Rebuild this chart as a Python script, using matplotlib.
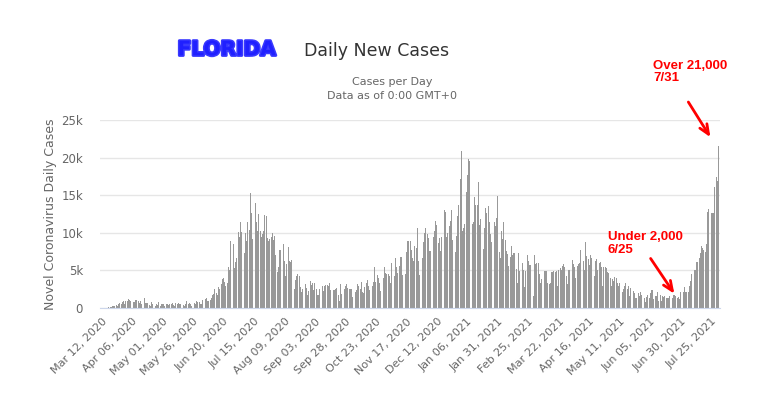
import matplotlib
matplotlib.use("Agg")
import matplotlib.pyplot as plt
import matplotlib.patheffects as pe
import numpy as np

# daily new cases in Florida (thousands), Mar 12 2020 -> Jul 31 2021
cases_k = [
    0.01, 0.02, 0.03, 0.03, 0.05, 0.07, 0.1,
    0.12, 0.15, 0.25, 0.3, 0.22, 0.4, 0.3,
    0.5, 0.7, 0.5, 0.75, 0.9, 0.6, 1.0,
    1.0, 1.2, 1.1, 1.0, 1.2, 0.8, 0.8,
    1.1, 1.1, 1.0, 0.7, 1.0, 0.6, 0.9,
    1.3, 0.7, 0.7, 0.7, 0.4, 0.3, 0.8,
    0.6, 0.5, 0.3, 0.5, 0.4, 0.8, 0.3,
    0.5, 0.6, 0.5, 0.3, 0.6, 0.5, 0.4,
    0.6, 0.55, 0.7, 0.4, 0.3, 0.7, 0.5,
    0.7, 0.6, 0.55, 0.8, 0.45, 0.3, 0.5,
    0.9, 0.6, 0.7, 0.5, 0.3, 0.4, 0.7,
    0.5, 1.0, 0.8, 0.75, 0.6, 0.6, 1.1,
    1.3, 1.25, 1.3, 0.95, 1.0, 1.1, 1.4,
    1.7, 1.9, 2.6, 2.0, 1.8, 2.8, 2.6,
    3.2, 3.8, 4.0, 3.5, 2.9, 3.3, 5.5,
    5.0, 8.9, 9.6, 8.5, 5.3, 6.1, 6.6,
    10.1, 9.5, 11.5, 10.1, 6.3, 7.3, 10.0,
    8.9, 11.4, 10.4, 15.3, 12.6, 9.2, 10.2,
    14.0, 11.5, 10.3, 12.5, 10.3, 9.4, 9.8,
    10.2, 12.4, 12.2, 9.3, 8.9, 9.2, 9.4,
    10.0, 9.0, 9.6, 7.1, 4.8, 5.4, 7.7,
    7.7, 8.0, 8.5, 6.2, 4.2, 5.8, 8.1,
    6.2, 6.1, 6.4, 3.8, 2.6, 3.7, 4.2,
    4.5, 4.3, 2.8, 2.1, 2.5, 3.1, 3.2,
    2.7, 1.7, 2.3, 3.6, 3.1, 3.4, 2.4,
    3.4, 2.5, 1.8, 1.8, 2.6, 3.2, 3.0,
    2.3, 2.9, 3.1, 3.1, 3.0, 3.4, 2.4,
    1.3, 2.4, 2.4, 2.5, 2.7, 1.7, 1.0,
    3.2, 1.9, 2.5, 2.6, 2.9, 3.2, 2.7,
    2.5, 2.6, 2.6, 1.5, 2.0, 2.2, 2.4,
    3.2, 2.9, 2.6, 3.5, 2.2, 2.0, 2.8,
    3.3, 3.7, 3.0, 2.4, 1.7, 2.9, 3.5,
    5.5, 3.5, 4.4, 4.0, 3.3, 2.3, 4.2,
    4.0, 5.5, 4.6, 4.5, 4.5, 4.2, 3.4,
    6.0, 5.1, 4.3, 6.6, 5.5, 4.6, 5.6,
    6.8, 6.8, 4.4, 10.0, 4.5, 7.4, 8.9,
    8.9, 8.9, 7.7, 6.6, 6.3, 8.2, 8.0,
    10.6, 6.2, 4.4, 5.5, 6.7, 8.8, 10.0,
    10.7, 9.8, 9.3, 7.6, 7.6, 8.8, 9.5,
    10.2, 11.6, 11.0, 8.7, 9.3, 7.6, 9.5,
    11.5, 13.1, 12.8, 9.4, 10.0, 10.9, 11.6,
    13.1, 9.0, 7.0, 7.4, 9.6, 12.3, 13.7,
    17.1, 20.9, 10.3, 10.6, 11.2, 15.4, 17.7,
    19.8, 19.5, 12.3, 11.2, 11.5, 14.7, 13.7,
    13.7, 16.8, 11.0, 11.8, 10.8, 7.8, 10.6,
    13.3, 12.7, 13.6, 11.5, 9.9, 8.8, 10.0,
    11.4, 10.9, 12.0, 14.9, 7.5, 6.7, 10.2,
    9.2, 11.4, 9.0, 7.6, 7.2, 5.6, 6.8,
    8.3, 7.1, 7.3, 7.3, 5.2, 3.3, 7.3,
    4.9, 7.3, 6.0, 5.0, 2.8, 4.9, 7.0,
    6.3, 5.7, 5.7, 5.4, 1.6, 7.1, 5.9,
    6.0, 6.0, 4.5, 3.4, 3.9, 4.4, 4.9,
    4.9, 4.9, 3.4, 3.2, 3.3, 4.8, 4.8,
    4.9, 4.8, 4.9, 3.0, 5.0, 5.3, 5.1,
    5.6, 5.8, 5.5, 4.2, 3.2, 5.0, 5.0,
    5.4, 6.4, 5.8, 5.4, 4.0, 5.6, 5.8,
    6.0, 7.7, 6.6, 6.2, 5.0, 8.8, 6.9,
    6.5, 5.7, 7.0, 6.7, 4.4, 4.2, 6.3,
    6.5, 5.1, 6.0, 6.1, 5.5, 3.0, 5.4,
    5.5, 5.3, 4.8, 4.6, 4.0, 2.9, 3.9,
    3.6, 4.1, 4.0, 3.4, 3.0, 3.3, 3.5,
    2.2, 2.6, 3.0, 3.4, 2.6, 2.9, 1.6,
    2.7, 2.5, 2.3, 2.0, 1.4, 1.3, 2.0,
    1.6, 2.2, 1.8, 1.1, 1.3, 0.8, 1.5,
    1.8, 1.4, 2.0, 2.4, 2.4, 1.2, 1.6,
    1.6, 2.1, 1.0, 1.8, 1.0, 1.6, 1.5,
    1.6, 1.4, 1.3, 1.3, 1.6, 1.8, 1.4,
    1.8, 1.8, 1.6, 1.3, 1.5, 1.2, 2.1,
    2.3, 2.1, 2.8, 2.2, 2.2, 2.2, 2.9,
    3.6, 4.5, 5.8, 5.0, 5.0, 6.1, 6.1,
    6.7, 7.3, 8.2, 8.0, 7.7, 7.5, 8.5,
    12.8, 13.2, 14.0, 12.7, 12.7, 12.7, 16.1,
    17.4, 16.9, 21.5,
]
cases = np.array(cases_k) * 1000

tick_labels = ["Mar 12, 2020", "Apr 06, 2020", "May 01, 2020", "May 26, 2020",
               "Jun 20, 2020", "Jul 15, 2020", "Aug 09, 2020", "Sep 03, 2020",
               "Sep 28, 2020", "Oct 23, 2020", "Nov 17, 2020", "Dec 12, 2020",
               "Jan 06, 2021", "Jan 31, 2021", "Feb 25, 2021", "Mar 22, 2021",
               "Apr 16, 2021", "May 11, 2021", "Jun 05, 2021", "Jun 30, 2021",
               "Jul 25, 2021"]
y_ticks = [0, 5000, 10000, 15000, 20000, 25000]
y_labels = ["0", "5k", "10k", "15k", "20k", "25k"]

fig = plt.figure(figsize=(7.79, 3.96), dpi=100)
ax = fig.add_axes([0.128, 0.222, 0.796, 0.475])

days = np.arange(len(cases))
ax.bar(days, cases, width=0.75, color="#999999", linewidth=0)

ax.set_xlim(-1.5, 507)
ax.set_ylim(0, 25000)
ax.set_yticks(y_ticks)
ax.set_yticklabels(y_labels, color="#666666", fontsize=8.5)
ax.set_xticks(days[::25][:len(tick_labels)])
ax.set_xticklabels(tick_labels, rotation=45, ha="right", rotation_mode="anchor",
                   color="#666666", fontsize=8)
ax.tick_params(axis="both", length=0, pad=6)
ax.tick_params(axis="y", pad=12)
ax.grid(axis="y", color="#e6e6e6", linewidth=1)
ax.set_axisbelow(True)
for s in ["top", "right", "left"]:
    ax.spines[s].set_visible(False)
ax.spines["bottom"].set_color("#ccd6eb")
ax.set_ylabel("Novel Coronavirus Daily Cases", color="#666666", fontsize=9, labelpad=3)

# titles
fig.text(0.484, 0.872, "Daily New Cases", ha="center", va="center", fontsize=12.5, color="#333333")
fig.text(0.503, 0.793, "Cases per Day", ha="center", va="center", fontsize=8, color="#666666")
fig.text(0.503, 0.757, "Data as of 0:00 GMT+0", ha="center", va="center", fontsize=8, color="#666666")
fig.text(0.291, 0.874, "FLORIDA", ha="center", va="center", fontsize=14.5, fontweight="bold",
         color="#2020ff", family=["Liberation Sans Narrow", "DejaVu Sans"],
         path_effects=[pe.withStroke(linewidth=2.2, foreground="#3a3aff")])

# annotations
red_font = dict(color="red", fontsize=9.5, fontweight="bold", family="Liberation Sans")
ax.text(452.5, 33000, "Over 21,000\n7/31", va="top", ha="left", clip_on=False,
        linespacing=1.05, **red_font)
ax.annotate("", xy=(500.5, 22400), xytext=(480, 27700), annotation_clip=False,
            arrowprops=dict(arrowstyle="->,head_length=0.7,head_width=0.3",
                            color="red", lw=2))
ax.text(415, 10200, "Under 2,000\n6/25", va="top", ha="left", clip_on=False,
        linespacing=1.05, **red_font)
ax.annotate("", xy=(471, 1600), xytext=(449, 6900), annotation_clip=False,
            arrowprops=dict(arrowstyle="->,head_length=0.7,head_width=0.3",
                            color="red", lw=2))

fig.savefig("out.png", dpi=100, facecolor="white")
